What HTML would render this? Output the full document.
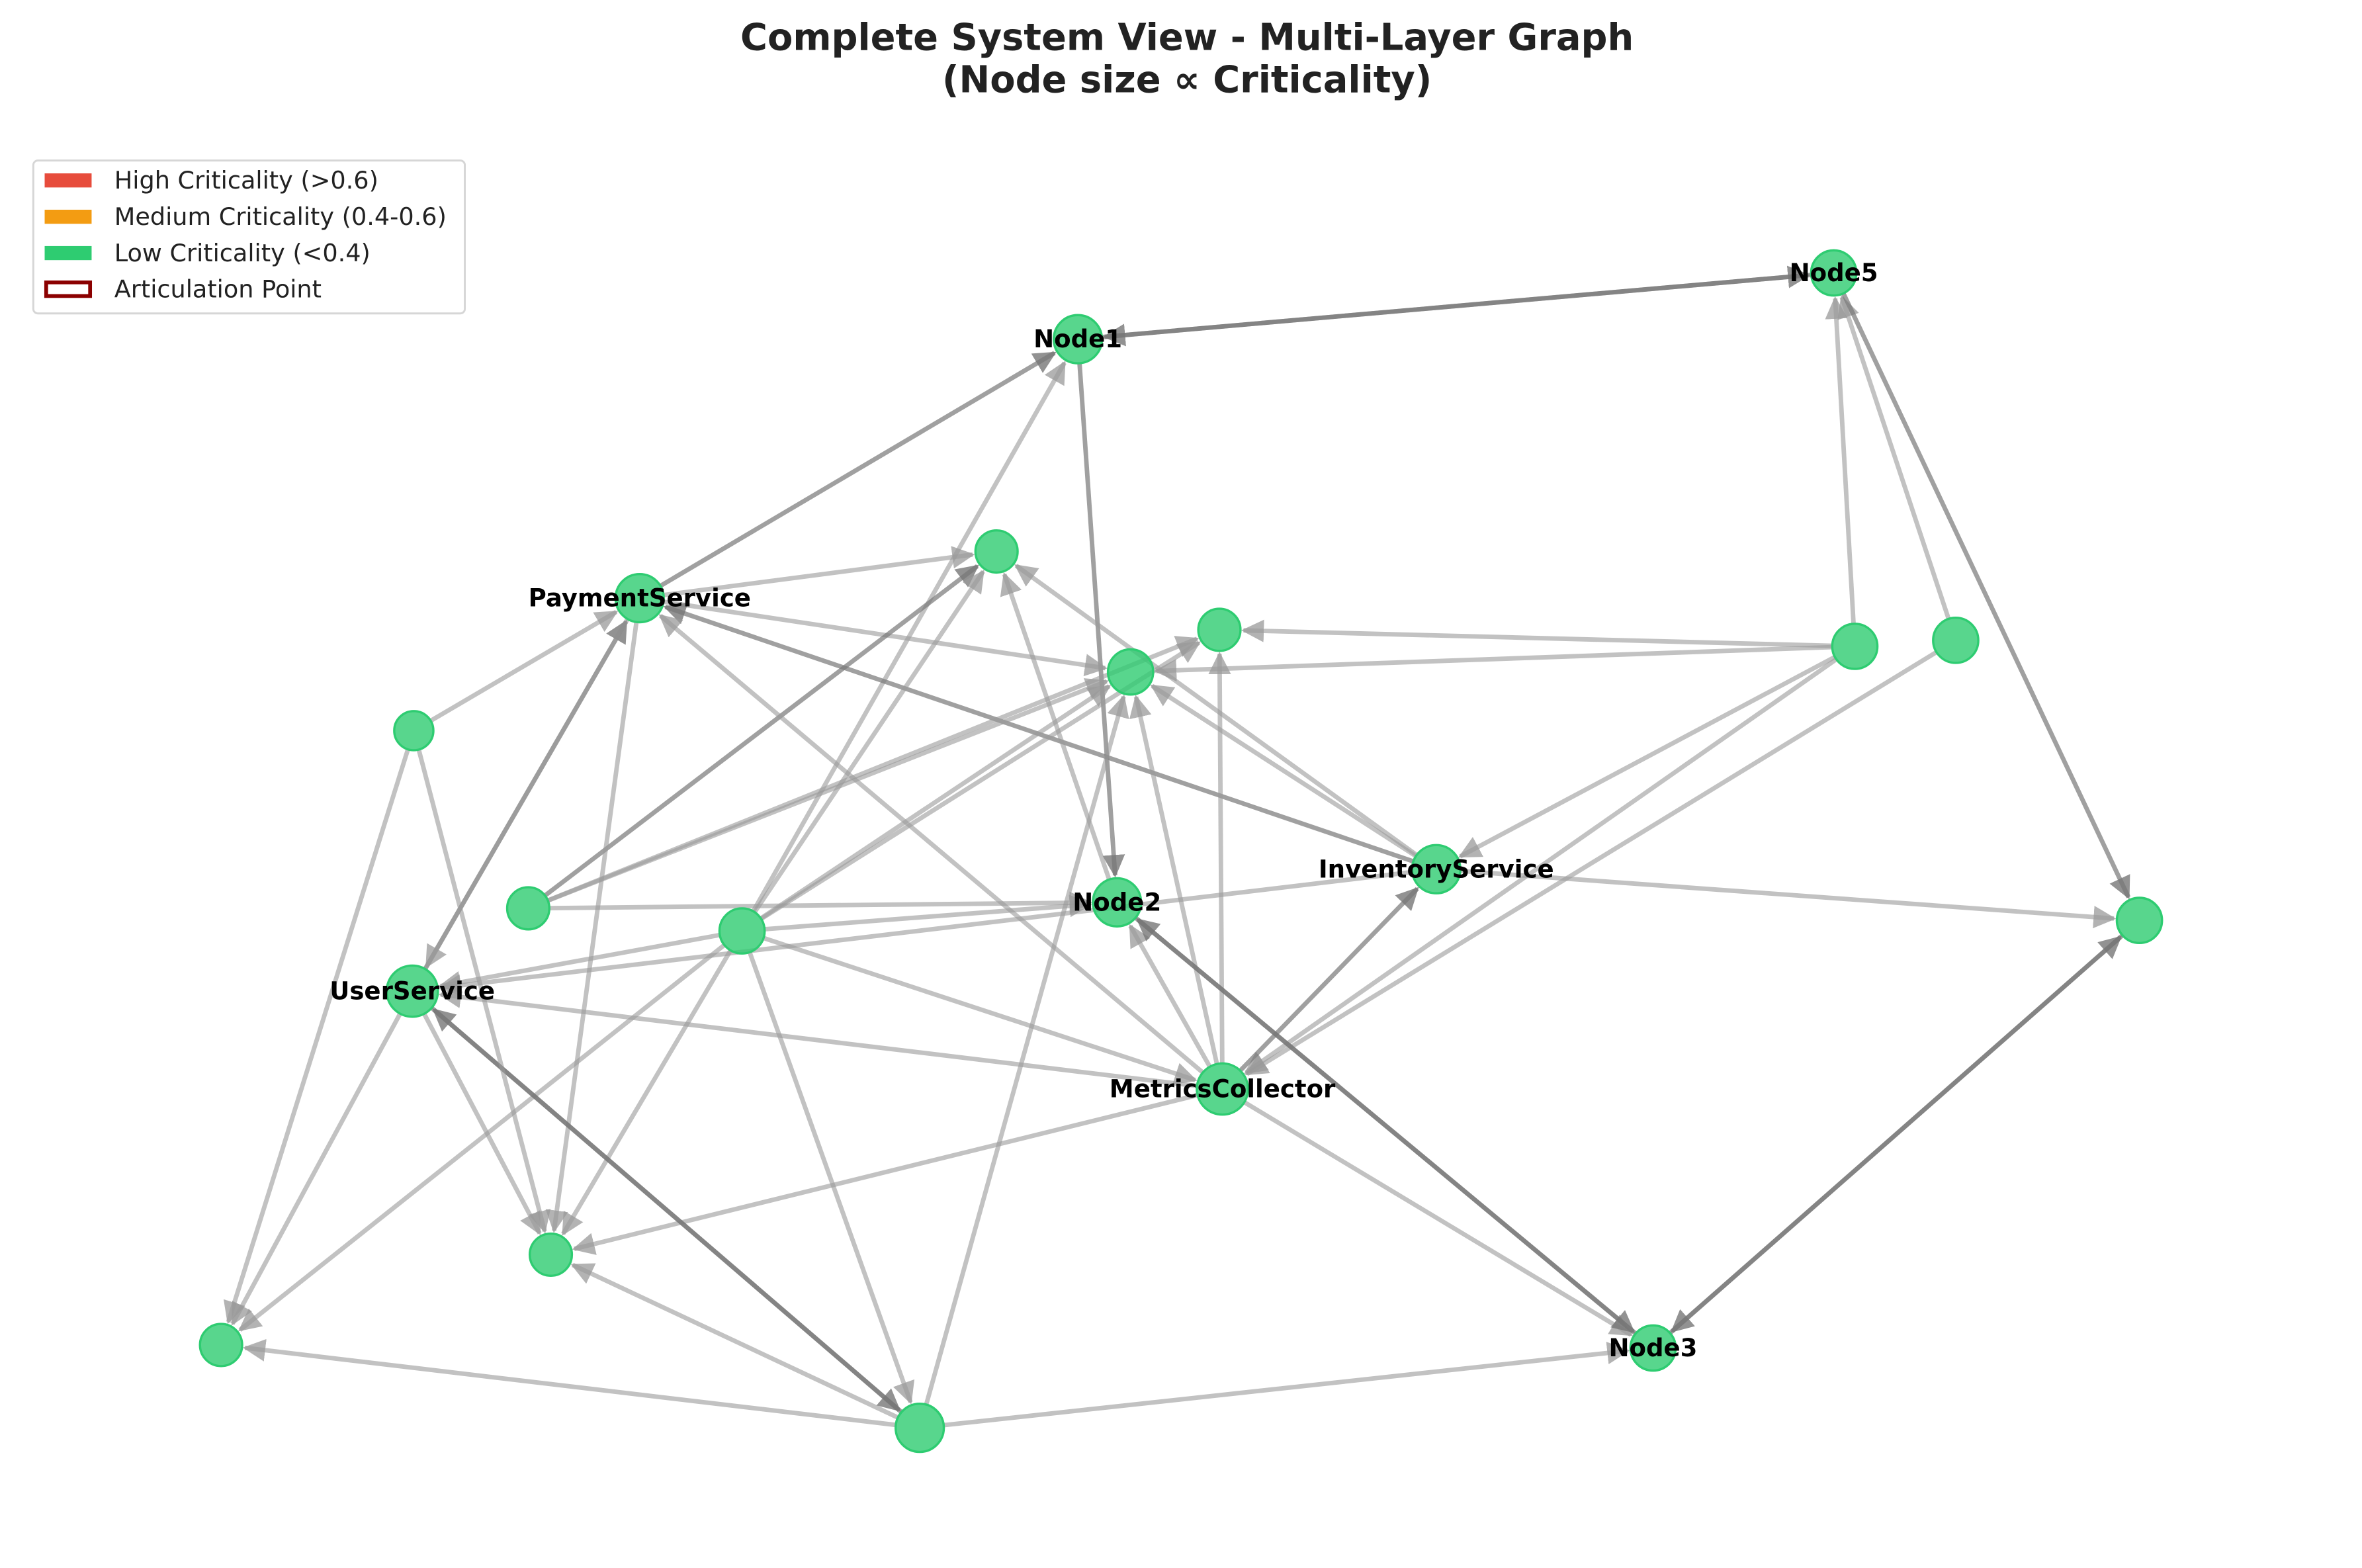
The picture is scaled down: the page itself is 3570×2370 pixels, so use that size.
<!DOCTYPE html>
<html><head><meta charset="utf-8"><style>
html,body{margin:0;padding:0;background:#fff}
svg{display:block}
</style></head><body>
<svg id="chart" width="3570" height="2370" viewBox="0 0 1560 1035.6" xmlns="http://www.w3.org/2000/svg" font-family="DejaVu Sans, Liberation Sans, sans-serif">
<defs>
<marker id="arrL" viewBox="0 0 10 10" refX="9" refY="5" markerWidth="5" markerHeight="5" orient="auto" markerUnits="strokeWidth"><path d="M0,0 L10,5 L0,10 z" fill="#999" fill-opacity="0.75"/></marker>
<marker id="arrD" viewBox="0 0 10 10" refX="9" refY="5" markerWidth="5" markerHeight="5" orient="auto" markerUnits="strokeWidth"><path d="M0,0 L10,5 L0,10 z" fill="#777" fill-opacity="0.8"/></marker>
</defs>
<text x="784" y="33" text-anchor="middle" font-size="24.4" font-weight="bold" fill="#222">Complete System View - Multi-Layer Graph</text>
<text x="784" y="61" text-anchor="middle" font-size="24.4" font-weight="bold" fill="#222">(Node size ∝ Criticality)</text>
<g>
<rect x="22" y="106" width="285" height="101" rx="3" fill="#fff" stroke="#d6d6d6" stroke-width="1.3"/>
<rect x="29.5" y="114.5" width="31" height="9.3" fill="#e74c3c"/><text x="75.5" y="124.5" font-size="16" fill="#222">High Criticality (&gt;0.6)</text>
<rect x="29.5" y="138.5" width="31" height="9.3" fill="#f39c12"/><text x="75.5" y="148.5" font-size="16" fill="#222">Medium Criticality (0.4-0.6)</text>
<rect x="29.5" y="162.5" width="31" height="9.3" fill="#2ecc71"/><text x="75.5" y="172.5" font-size="16" fill="#222">Low Criticality (&lt;0.4)</text>
<rect x="30.5" y="186.5" width="29" height="9" fill="#fff" stroke="#8b0000" stroke-width="2.5"/><text x="75.5" y="196.5" font-size="16" fill="#222">Articulation Point</text>
</g>
<g transform="translate(146,224) scale(0.9945) translate(-146,-224)">
<g id="edges"></g><g id="nodes"></g><g id="labels"></g>
</g>
</svg>
<script>
const nodeIds=["Node1","Node5","A","PaymentService","B","C","D","E","F","InventoryService","G","H","Node2","UserService","I","MetricsCollector","J","K","L","Node3"];
const nodeX=[715,1217,661,424,809,750,1231,1298,274,953,350,492,741,273,1420,811,365,146,610,1097];
const nodeY=[224,180,365,396,417,445,428,424,484,576,602,617,598,657,610,722,832,892,947,894];
const nodeR=[16,15,14,16,14,15,15,15,13,16,14,15,16,17,15,17,14,14,16,15];
const showLabel=[1,1,0,1,0,0,0,0,0,1,0,0,1,1,0,1,0,0,0,1];
const edgeFrom=["PaymentService","Node1","Node5","H","Node1","D","E","Node5","PaymentService","PaymentService","InventoryService","F","G","G","G","G","H","H","H","H","H","H","H","H","H","UserService","PaymentService","PaymentService","Node2","InventoryService","InventoryService","InventoryService","D","D","D","D","E","InventoryService","MetricsCollector","MetricsCollector","MetricsCollector","MetricsCollector","MetricsCollector","MetricsCollector","MetricsCollector","MetricsCollector","L","L","L","L","L","UserService","Node2","Node3","I","Node3","UserService","UserService","F","F"];
const edgeTo=["Node1","Node5","Node1","Node1","Node2","Node5","Node5","I","A","C","PaymentService","PaymentService","A","C","B","Node2","A","C","B","Node2","UserService","J","K","MetricsCollector","L","PaymentService","UserService","J","A","A","C","UserService","B","C","InventoryService","MetricsCollector","MetricsCollector","I","B","C","Node2","InventoryService","PaymentService","UserService","J","Node3","C","Node3","K","J","UserService","L","Node3","Node2","Node3","I","J","K","J","K"];
const edgeDark=[1,1,1,0,1,0,0,1,0,0,1,0,1,0,0,0,0,0,0,0,0,0,0,0,0,1,0,0,0,0,0,0,0,0,0,0,0,0,0,0,0,1,0,0,0,0,0,0,0,0,1,1,1,1,1,1,0,0,0,0];
const NS="http://www.w3.org/2000/svg";
const eg=document.getElementById('edges'),ng=document.getElementById('nodes'),lg=document.getElementById('labels');
function idx(n){return nodeIds.indexOf(n);}
for(let i=0;i<edgeFrom.length;i++){
  const a=idx(edgeFrom[i]),b=idx(edgeTo[i]);
  const x1=nodeX[a],y1=nodeY[a],x2=nodeX[b],y2=nodeY[b];
  const dx=x2-x1,dy=y2-y1,L=Math.hypot(dx,dy);
  const ux=dx/L,uy=dy/L;
  const ln=document.createElementNS(NS,'line');
  
  
  ln.setAttribute('x1',x1+ux*nodeR[a]);ln.setAttribute('y1',y1+uy*nodeR[a]);
  ln.setAttribute('x2',x2-ux*(nodeR[b]+2));ln.setAttribute('y2',y2-uy*(nodeR[b]+2));
  ln.setAttribute('stroke',edgeDark[i]?'#777':'#999');
  ln.setAttribute('stroke-opacity',edgeDark[i]?'0.7':'0.6');
  ln.setAttribute('stroke-width','3');
  ln.setAttribute('marker-end',edgeDark[i]?'url(#arrD)':'url(#arrL)');
  eg.appendChild(ln);
}
for(let i=0;i<nodeIds.length;i++){
  const c=document.createElementNS(NS,'circle');
  
  
  c.setAttribute('cx',nodeX[i]);c.setAttribute('cy',nodeY[i]);c.setAttribute('r',nodeR[i]);
  c.setAttribute('fill','#2ecc71');c.setAttribute('fill-opacity','0.8');
  c.setAttribute('stroke','#2ecc71');c.setAttribute('stroke-width','1.5');
  ng.appendChild(c);
  if(showLabel[i]){
    const t=document.createElementNS(NS,'text');
    
    
    t.setAttribute('x',nodeX[i]);t.setAttribute('y',nodeY[i]+5.5);
    t.setAttribute('text-anchor','middle');t.setAttribute('font-size','16.3');
    t.setAttribute('font-weight','bold');t.setAttribute('fill','#000');
    t.textContent=nodeIds[i];
    lg.appendChild(t);
  }
}
</script>
</body></html>
